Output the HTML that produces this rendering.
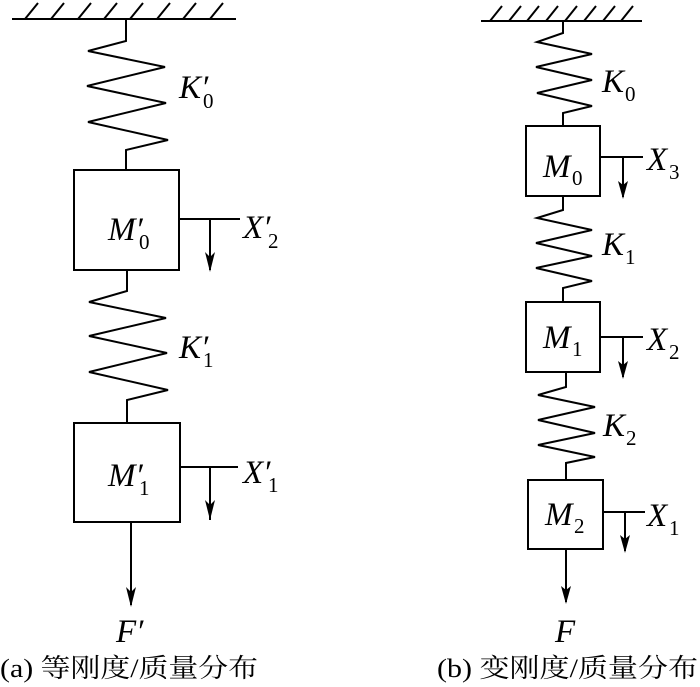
<!DOCTYPE html>
<html><head><meta charset="utf-8"><style>
html,body{margin:0;padding:0;background:#fff;}
svg{display:block}
text{font-family:"Liberation Serif","Times New Roman","Noto Serif CJK SC",serif;fill:#000;font-size:33px}
text.s{font-size:21px;font-style:normal}
text.i{font-style:italic}
text.c{font-size:26px}
</style></head><body>
<svg width="700" height="687" viewBox="0 0 700 687" xmlns="http://www.w3.org/2000/svg">
<g stroke="#000" stroke-width="2" fill="none">
<line x1="12" y1="19" x2="236" y2="19"/>
<path d="M25,19 L38,3 M51,19 L64,3 M78,19 L91,3 M104,19 L117,3 M130,19 L143,3 M157,19 L170,3 M183,19 L196,3 M210,19 L223,3"/>
<path d="M126,19 L126,41 L88,51 L165,67 L87,86 L166,103 L88,122 L168,140 L126,150 L126,170"/>
<rect x="74" y="170" width="105" height="100"/>
<path d="M179,219 L240,219 M210,219 L210,270" />
<path d="M127,270 L127,291 L89,302 L166,318 L89,336 L167,353 L89,372 L168,390 L127,400 L127,423"/>
<rect x="74" y="423" width="106" height="99"/>
<path d="M180,467 L238,467 M210,467 L210,520"/>
<path d="M131,522 L131,605"/>
<line x1="481" y1="21" x2="642" y2="21"/>
<path d="M490,21 L502,6 M509,21 L521,6 M527,21 L539,6 M546,21 L558,6 M565,21 L577,6 M584,21 L596,6 M603,21 L615,6 M621,21 L633,6"/>
<path d="M563,21 L563,33 L537,42 L592,54 L536,67 L592,80 L537,93 L592,106 L563,113 L563,126"/>
<rect x="526" y="126" width="74" height="70"/>
<path d="M600,157 L643,157 M623,157 L623,197"/>
<path d="M563,196 L563,210 L537,218 L592,230 L536,243 L592,256 L536,268 L592,281 L563,288 L563,302"/>
<rect x="526" y="302" width="74" height="70"/>
<path d="M600,337 L643,337 M623,337 L623,377"/>
<path d="M566,372 L566,387 L538,395 L595,407 L538,420 L595,433 L538,445 L595,457 L566,463 L566,480"/>
<rect x="528" y="480" width="75" height="69"/>
<path d="M603,512 L645,512 M625,512 L625,551"/>
<path d="M566,549 L566,602"/>
</g>
<g fill="#000">
<path d="M205,252 L210,272 L215,252 L210,257Z"/>
<path d="M205,500 L210,520 L215,500 L210,505Z"/>
<path d="M126,587 L131,607 L136,587 L131,592Z"/>
<path d="M618,181 L623,199 L628,181 L623,185Z"/>
<path d="M618,361 L623,379 L628,361 L623,365Z"/>
<path d="M620,535 L625,553 L630,535 L625,539Z"/>
<path d="M561,586 L566,604 L571,586 L566,590Z"/>
</g>
<text x="179" y="98" class="i">K′</text><text x="203" y="108" class="s">0</text>
<text x="108" y="240" class="i">M′</text><text x="139" y="249" class="s">0</text>
<text x="243" y="238" class="i">X′</text><text x="268" y="248" class="s">2</text>
<text x="179" y="358" class="i">K′</text><text x="203" y="367" class="s">1</text>
<text x="108" y="486" class="i">M′</text><text x="139" y="495" class="s">1</text>
<text x="243" y="483" class="i">X′</text><text x="268" y="492" class="s">1</text>
<text x="116" y="642" class="i">F′</text>
<text x="602" y="92" class="i">K</text><text x="625" y="101" class="s">0</text>
<text x="543" y="177" class="i">M</text><text x="572" y="185" class="s">0</text>
<text x="647" y="170" class="i">X</text><text x="669" y="179" class="s">3</text>
<text x="602" y="255" class="i">K</text><text x="625" y="264" class="s">1</text>
<text x="543" y="348" class="i">M</text><text x="572" y="356" class="s">1</text>
<text x="647" y="350" class="i">X</text><text x="669" y="359" class="s">2</text>
<text x="603" y="436" class="i">K</text><text x="626" y="445" class="s">2</text>
<text x="545" y="525" class="i">M</text><text x="574" y="533" class="s">2</text>
<text x="647" y="526" class="i">X</text><text x="669" y="535" class="s">1</text>
<text x="555" y="642" class="i">F</text>
<text x="0" y="677" class="c" textLength="258" lengthAdjust="spacingAndGlyphs">(a) 等刚度/质量分布</text>
<text x="437" y="677" class="c" textLength="261" lengthAdjust="spacingAndGlyphs">(b) 变刚度/质量分布</text>
</svg>
</body></html>
